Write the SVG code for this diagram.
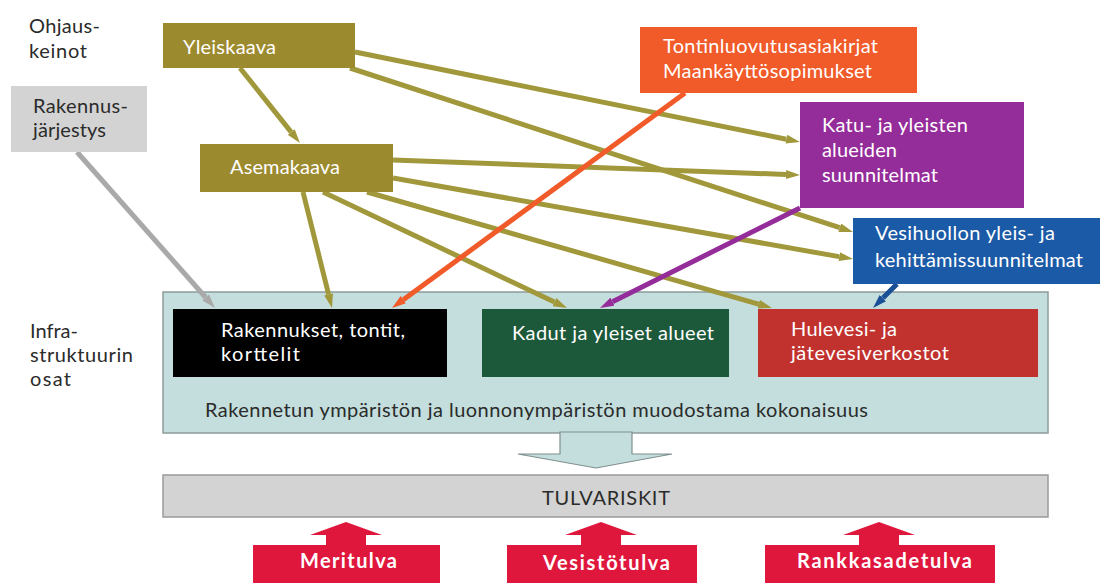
<svg xmlns="http://www.w3.org/2000/svg" width="1100" height="583" viewBox="0 0 1100 583">
<style>
text{font-family:Lato,"Liberation Sans",sans-serif;font-size:20px;lengthAdjust:spacing}
.w{fill:#ffffff}
.d{fill:#2b2b2b}
.bw{fill:#ffffff;font-weight:bold}
.ol{stroke:#a1983b;stroke-width:5;fill:none}
</style>
<defs>
<marker id="mo" viewBox="0 0 14 9" markerWidth="14" markerHeight="9" refX="0" refY="4.5" orient="auto" markerUnits="userSpaceOnUse"><path d="M0,0 L14,4.5 L0,9 z" fill="#a1983b"/></marker>
<marker id="mg" viewBox="0 0 14 9" markerWidth="14" markerHeight="9" refX="0" refY="4.5" orient="auto" markerUnits="userSpaceOnUse"><path d="M0,0 L14,4.5 L0,9 z" fill="#a9a9a9"/></marker>
<marker id="mr" viewBox="0 0 14 9" markerWidth="14" markerHeight="9" refX="0" refY="4.5" orient="auto" markerUnits="userSpaceOnUse"><path d="M0,0 L14,4.5 L0,9 z" fill="#f15a29"/></marker>
<marker id="mp" viewBox="0 0 14 9" markerWidth="14" markerHeight="9" refX="0" refY="4.5" orient="auto" markerUnits="userSpaceOnUse"><path d="M0,0 L14,4.5 L0,9 z" fill="#942c9a"/></marker>
<marker id="mb" viewBox="0 0 14 9" markerWidth="14" markerHeight="9" refX="0" refY="4.5" orient="auto" markerUnits="userSpaceOnUse"><path d="M0,0 L14,4.5 L0,9 z" fill="#1b4f96"/></marker>
</defs>
<rect width="1100" height="583" fill="#ffffff"/>

<g id="label-ohjauskeinot">
<text class="d" x="29" y="33" textLength="71">Ohjaus-</text>
<text class="d" x="29" y="58" textLength="58">keinot</text>
</g>
<g id="label-infra">
<text class="d" x="30" y="338" textLength="48">Infra-</text>
<text class="d" x="30" y="362" textLength="103">struktuurin</text>
<text class="d" x="30" y="386" textLength="41">osat</text>
</g>

<g id="container">
<rect x="163" y="292" width="885" height="141" fill="#c3dedc" stroke="#8c9c9b" stroke-width="1.5"/>
<text class="d" x="205" y="417" textLength="663">Rakennetun ympäristön ja luonnonympäristön muodostama kokonaisuus</text>
</g>

<g id="connectors">
<line class="ol" x1="240" y1="68" x2="291.2" y2="132.1" marker-end="url(#mo)"/>
<line class="ol" x1="355" y1="52" x2="786.3" y2="139.2" marker-end="url(#mo)"/>
<line class="ol" x1="350" y1="68" x2="839.7" y2="227.7" marker-end="url(#mo)"/>
<line class="ol" x1="393" y1="160" x2="786.0" y2="174.5" marker-end="url(#mo)"/>
<line class="ol" x1="393" y1="178" x2="839.2" y2="256.6" marker-end="url(#mo)"/>
<line class="ol" x1="303" y1="192" x2="328.6" y2="294.4" marker-end="url(#mo)"/>
<line class="ol" x1="323" y1="192" x2="554.4" y2="302.0" marker-end="url(#mo)"/>
<line class="ol" x1="367" y1="192" x2="758.5" y2="304.1" marker-end="url(#mo)"/>
<line x1="77" y1="152" x2="205.7" y2="297.5" stroke="#a9a9a9" stroke-width="5" marker-end="url(#mg)"/>
<line x1="685" y1="93" x2="403.3" y2="299.7" stroke="#f15a29" stroke-width="5" marker-end="url(#mr)"/>
<line x1="800" y1="208" x2="612.5" y2="301.7" stroke="#942c9a" stroke-width="5" marker-end="url(#mp)"/>
<line x1="897" y1="284" x2="882.9" y2="298.1" stroke="#1b4f96" stroke-width="5" marker-end="url(#mb)"/>
</g>

<g id="yleiskaava">
<rect x="163" y="23" width="192" height="45" fill="#9c8a2f"/>
<text class="w" x="183" y="54" textLength="93">Yleiskaava</text>
</g>
<g id="rakennusjarjestys">
<rect x="11" y="86" width="136" height="66" fill="#d3d3d3"/>
<text class="d" x="33" y="113" textLength="95">Rakennus-</text>
<text class="d" x="33" y="137" textLength="73">järjestys</text>
</g>
<g id="asemakaava">
<rect x="200" y="144" width="193" height="48" fill="#9c8a2f"/>
<text class="w" x="230" y="174" textLength="110">Asemakaava</text>
</g>
<g id="tontinluovutus">
<rect x="640" y="27" width="277" height="66" fill="#f15a29"/>
<text class="w" x="663" y="53" textLength="215">Tontinluovutusasiakirjat</text>
<text class="w" x="663" y="78" textLength="209">Maankäyttösopimukset</text>
</g>
<g id="katu">
<rect x="800" y="102" width="224" height="106" fill="#942c9a"/>
<text class="w" x="822" y="132" textLength="146">Katu- ja yleisten</text>
<text class="w" x="822" y="157" textLength="75">alueiden</text>
<text class="w" x="822" y="182" textLength="116">suunnitelmat</text>
</g>
<g id="vesihuolto">
<rect x="853" y="218" width="250" height="66" fill="#1b5aa6"/>
<text class="w" x="875" y="240" textLength="180">Vesihuollon yleis- ja</text>
<text class="w" x="875" y="267" textLength="208">kehittämissuunnitelmat</text>
</g>

<g id="rakennukset">
<rect x="173" y="309" width="274" height="68" fill="#000000"/>
<text class="w" x="221" y="337" textLength="184">Rakennukset, tontit,</text>
<text class="w" x="221" y="361" textLength="79">korttelit</text>
</g>
<g id="kadut">
<rect x="482" y="309" width="247" height="68" fill="#1c583a"/>
<text class="w" x="512" y="340" textLength="202">Kadut ja yleiset alueet</text>
</g>
<g id="hulevesi">
<rect x="758" y="309" width="280" height="68" fill="#c1312e"/>
<text class="w" x="791" y="336" textLength="106">Hulevesi- ja</text>
<text class="w" x="791" y="360" textLength="158">jätevesiverkostot</text>
</g>

<g id="down-arrow">
<path d="M560,432 H632 V454 H672 L596,468 L518,454 H560 Z" fill="#c3dedc" stroke="#7f8f8e" stroke-width="1.2"/>
</g>

<g id="tulvariskit">
<rect x="163" y="475" width="885" height="42" fill="#d3d3d3" stroke="#9a9a9a" stroke-width="1.5"/>
<text class="d" x="542" y="505" font-size="19" textLength="128">TULVARISKIT</text>
</g>

<g id="meritulva">
<path d="M253,590 V545 H326 V535 H310 L346,522 L382,535 H366 V545 H440 V590 Z" fill="#e0173c"/>
<text class="bw" x="300" y="568" textLength="97">Meritulva</text>
</g>
<g id="vesistotulva">
<path d="M507,590 V545 H581 V535 H565 L601,522 L637,535 H621 V545 H697 V590 Z" fill="#e0173c"/>
<text class="bw" x="543" y="570" textLength="127">Vesistötulva</text>
</g>
<g id="rankkasadetulva">
<path d="M765,590 V545 H859 V535 H843 L879,522 L915,535 H899 V545 H995 V590 Z" fill="#e0173c"/>
<text class="bw" x="797" y="568" textLength="175">Rankkasadetulva</text>
</g>
</svg>
